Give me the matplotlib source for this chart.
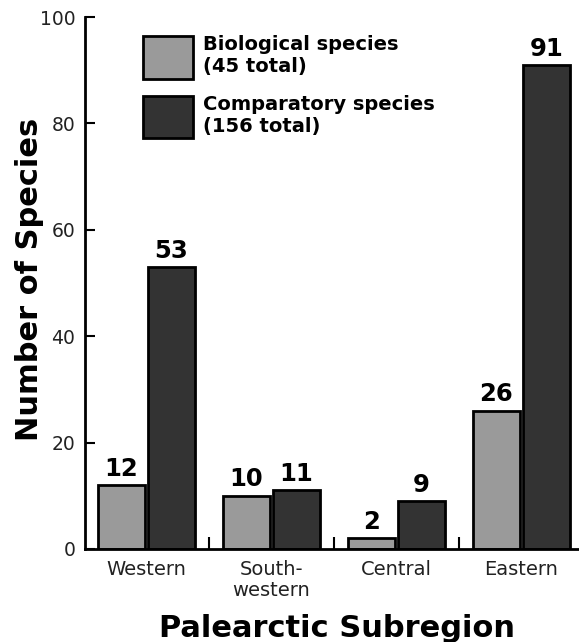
import numpy as np
import matplotlib
matplotlib.use("Agg")
import matplotlib.pyplot as plt
from matplotlib.ticker import FixedLocator

regions = ["Western", "South-\nwestern", "Central", "Eastern"]
biological = [12, 10, 2, 26]
comparatory = [53, 11, 9, 91]
labels = ["Biological species\n(45 total)", "Comparatory species\n(156 total)"]

light = "#9a9a9a"
dark = "#333333"

plt.rcParams['font.family'] = ['DejaVu Sans']

fig = plt.figure(figsize=(5.79, 6.42), dpi=100)
ax = fig.add_axes([0.147, 0.145, 0.853, 0.8285])

x = np.arange(len(regions))
w = 0.37
b1 = ax.bar(x - 0.2, biological, w, color=light, edgecolor="black", linewidth=2, label=labels[0])
b2 = ax.bar(x + 0.2, comparatory, w, color=dark, edgecolor="black", linewidth=2, label=labels[1])

# value labels over each bar
for bars in (b1, b2):
    for r in bars:
        ax.text(r.get_x() + r.get_width() / 2, r.get_height() + 0.8, str(int(r.get_height())),
                ha="center", va="bottom", fontsize=17.5, fontweight="bold")

ax.set_xlim(-0.49, 3.46)
ax.set_ylim(0, 100)
ax.set_xticks(x)
ax.set_xticklabels(regions, fontsize=14, linespacing=1.15, color="#222222")
ax.xaxis.set_minor_locator(FixedLocator([0.5, 1.5, 2.5]))
ax.tick_params(axis="x", which="major", length=0, pad=8)
ax.tick_params(axis="x", which="minor", direction="in", length=9, width=1.5)
ax.set_yticks([0, 20, 40, 60, 80, 100])
ax.tick_params(axis="y", direction="in", length=7.5, width=1.5, labelsize=13.5, pad=7,
               labelcolor="#222222")

for s in ("top", "right"):
    ax.spines[s].set_visible(False)
for s in ("left", "bottom"):
    ax.spines[s].set_linewidth(2)

ax.set_ylabel("Number of Species", fontsize=22, fontweight="bold")
ax.yaxis.set_label_coords(-0.083, 0.506)
ax.set_xlabel("Palearctic Subregion", fontsize=22, fontweight="bold")
ax.xaxis.set_label_coords(0.509, -0.122)

leg = ax.legend(loc="upper left", bbox_to_anchor=(0.117, 0.966), frameon=False,
                prop={"weight": "bold", "size": 14}, handlelength=2.58, handleheight=3.0,
                handletextpad=0.5, labelspacing=0.82, borderaxespad=0, borderpad=0)

fig.savefig("out.png", dpi=100)
